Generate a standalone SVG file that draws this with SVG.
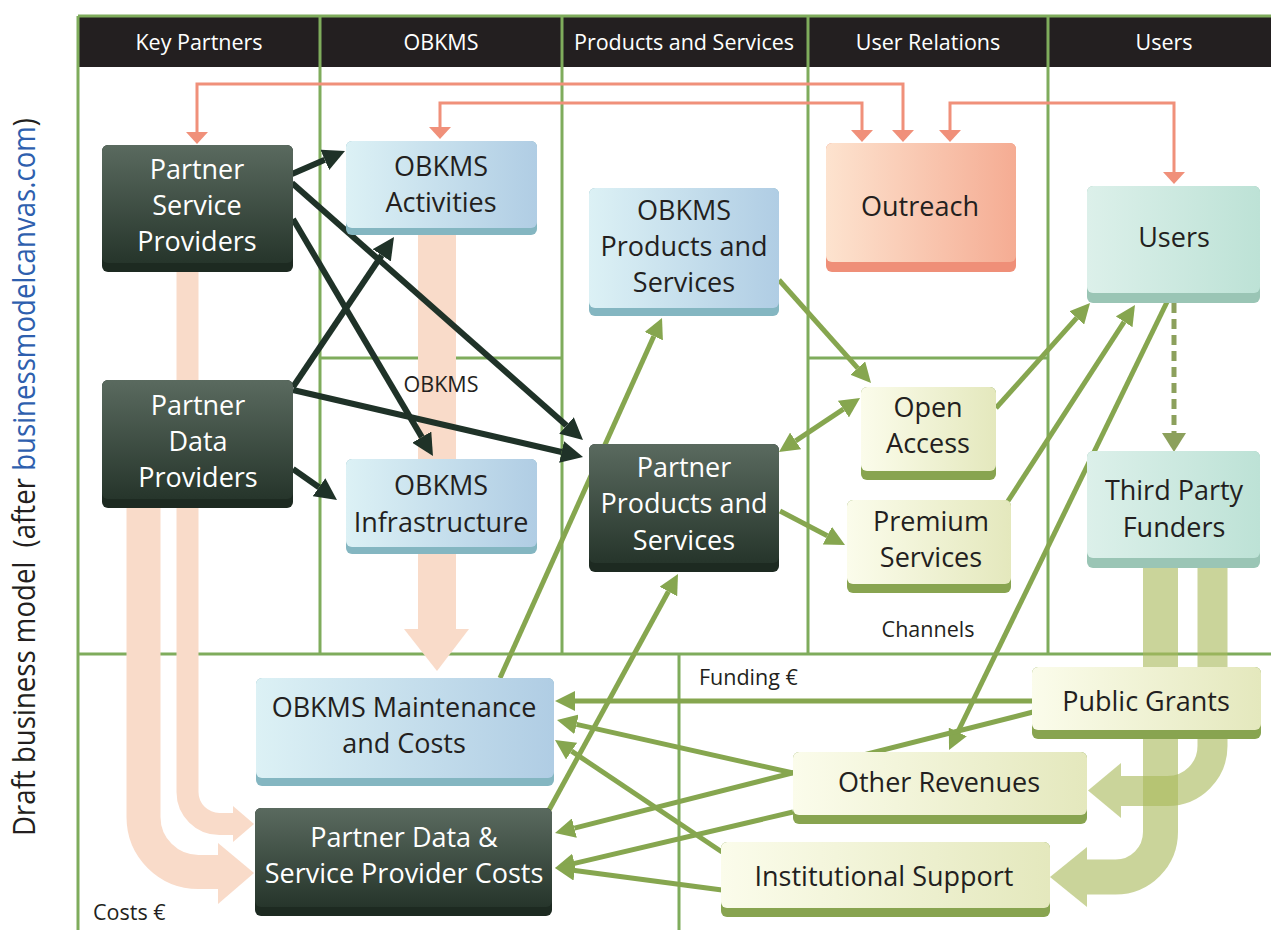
<svg xmlns="http://www.w3.org/2000/svg" width="1271" height="930" viewBox="0 0 1271 930">
<style>
.grid{stroke:#7fac5c;stroke-width:3;fill:none}
.hd{font-family:"Open Sans","Noto Sans",sans-serif;font-size:21.5px;fill:#ffffff;text-anchor:middle}
.nt{font-family:"Open Sans","Noto Sans",sans-serif;font-size:27px;fill:#231f20;text-anchor:middle}
.wt{fill:#ffffff}
.lb{font-family:"Open Sans","Noto Sans",sans-serif;font-size:21.5px;fill:#231f20}
.dk{stroke:#1f3228;stroke-width:6;fill:none;marker-end:url(#mDark)}
.gr{stroke:#86a64f;stroke-width:5;fill:none;marker-end:url(#mGreen)}
.sa{stroke:#f0907a;stroke-width:3;fill:none;marker-start:url(#mSalmon);marker-end:url(#mSalmon)}
.sflow{stroke:#f9dbc9;fill:none}
.gflow{stroke:#a9b95c;fill:none;stroke-opacity:0.62}
.s-dark{fill:#1d2a21}.s-blue{fill:#84b6c1}.s-sal{fill:#ef8f78}.s-mint{fill:#9ac5b5}.s-cream{fill:#88a450}
</style>
<defs>
<linearGradient id="gDark" x1="0" y1="0" x2="0" y2="1"><stop offset="0" stop-color="#5a6a5f"/><stop offset="1" stop-color="#26352b"/></linearGradient>
<linearGradient id="gBlue" x1="0" y1="0" x2="1" y2="0"><stop offset="0" stop-color="#dcf1f5"/><stop offset="1" stop-color="#b0cde4"/></linearGradient>
<linearGradient id="gSal" x1="0" y1="0" x2="1" y2="0"><stop offset="0" stop-color="#fde3cf"/><stop offset="1" stop-color="#f5ac93"/></linearGradient>
<linearGradient id="gMint" x1="0" y1="0" x2="1" y2="0"><stop offset="0" stop-color="#dcf0ea"/><stop offset="1" stop-color="#bde2d6"/></linearGradient>
<linearGradient id="gCream" x1="0" y1="0" x2="1" y2="0"><stop offset="0" stop-color="#fbfceb"/><stop offset="1" stop-color="#e4e8bd"/></linearGradient>
<marker id="mDark" viewBox="0 -11 22 22" refX="0" refY="0" markerWidth="22" markerHeight="22" markerUnits="userSpaceOnUse" orient="auto"><path d="M0,-11 L22,0 L0,11 z" fill="#1f3228"/></marker>
<marker id="mGreen" viewBox="0 -10 20 20" refX="0" refY="0" markerWidth="20" markerHeight="20" markerUnits="userSpaceOnUse" orient="auto-start-reverse"><path d="M0,-10 L20,0 L0,10 z" fill="#86a64f"/></marker>
<marker id="mSalmon" viewBox="0 -11 12 22" refX="0" refY="0" markerWidth="12" markerHeight="22" markerUnits="userSpaceOnUse" orient="auto-start-reverse"><path d="M0,-11 L12,0 L0,11 z" fill="#f0907a"/></marker>
</defs>
<rect x="0" y="0" width="1271" height="930" fill="#ffffff"/>

<g id="canvas">
<rect x="78" y="16" width="1193" height="51" fill="#231f20"/>
<path class="grid" d="M78,16 H1271 M78,16 V930 M320,16 V654 M562,16 V654 M808,16 V654 M1048,16 V654 M320,358 H562 M808,358 H1048 M78,654 H1271 M679,654 V930"/>
<text class="hd" x="199" y="50">Key Partners</text>
<text class="hd" x="441" y="50">OBKMS</text>
<text class="hd" x="684" y="50">Products and Services</text>
<text class="hd" x="928" y="50">User Relations</text>
<text class="hd" x="1164" y="50">Users</text>
<text transform="translate(35,836) rotate(-90)" font-family="Open Sans, Noto Sans, sans-serif" font-size="31" fill="#231f20" textLength="718" lengthAdjust="spacingAndGlyphs">Draft business model<tspan dx="16">(after </tspan><tspan fill="#2e5fae">businessmodelcanvas.com</tspan>)</text>
</g>

<g id="flows">
<rect x="418" y="235" width="38" height="395" fill="#f9dbc9"/>
<polygon points="404,629 469,629 437,671" fill="#f9dbc9"/>
<path class="sflow" stroke-width="22" d="M187.5,271 V792 A32,32 0 0 0 219.5,824 H234"/>
<polygon points="233,806 233,842 254,824" fill="#f9dbc9"/>
<path class="sflow" stroke-width="34" d="M143.5,507 V817 A55,55 0 0 0 198.5,872 H219"/>
<polygon points="218,843 218,904 254,873" fill="#f9dbc9"/>
<path class="gflow" stroke-width="35" d="M1160.5,568 V832 A45,45 0 0 1 1115.5,877 H1087"/>
<polygon points="1087,847 1087,907 1050,877" fill="#a9b95c" fill-opacity="0.62"/>
<path class="gflow" stroke-width="30" d="M1212.5,568 V746 A45,45 0 0 1 1167.5,791 H1121"/>
<polygon points="1121,763 1121,818 1088,790.5" fill="#a9b95c" fill-opacity="0.62"/>
</g>

<g id="labels">
<text class="lb" x="441" y="392" text-anchor="middle">OBKMS</text>
<text class="lb" x="928" y="637" text-anchor="middle">Channels</text>
<text class="lb" x="699" y="685">Funding €</text>
<text class="lb" x="93" y="920">Costs €</text>
</g>

<g id="connectors">
<path class="sa" d="M197,132 V84 H903 V130"/>
<path class="sa" d="M440,127 V103 H862 V130"/>
<path class="sa" d="M950,130 V103 H1174 V172"/>
<path class="dk" d="M292,174 L324.8,159.8"/>
<path class="dk" d="M292,183 L566.5,425.4"/>
<path class="dk" d="M293,219 L421.8,437.1"/>
<path class="dk" d="M293,387 L381.7,255.3"/>
<path class="dk" d="M293,390 L561.6,452"/>
<path class="dk" d="M293,469 L319,487.3"/>
<path class="gr" d="M779,280 L857.7,368.1"/>
<path class="gr" style="marker-start:url(#mGreen)" d="M795.6,440.9 L843.4,409.1"/>
<path class="gr" d="M780,511 L827.3,535.7"/>
<path class="gr" d="M996,408 L1076.7,317.9"/>
<path class="gr" d="M1008,501 L1124.1,321.8"/>
<path class="gr" d="M1167,302 L957.8,732"/>
<path d="M1174,303 V433" stroke="#8ca05c" stroke-width="5" stroke-dasharray="10 6" fill="none"/>
<polygon points="1162,433 1186,433 1174,452" fill="#8ca05c"/>
<path class="gr" d="M500,678 L653.8,336.2"/>
<path class="gr" d="M549,810 L668.4,591.5"/>
<path class="gr" d="M1033,701 L575,701"/>
<path class="gr" d="M1033,712 L574.4,828.1"/>
<path class="gr" d="M793,773 L576.5,724.4"/>
<path class="gr" d="M793,812 L574.5,863.4"/>
<path class="gr" d="M722,852 L571.6,751.1"/>
<path class="gr" d="M722,890 L574.8,870.6"/>
</g>

<g id="psp">
<rect class="s-dark" x="102" y="145" width="191" height="127" rx="6"/>
<rect fill="url(#gDark)" x="102" y="145" width="191" height="118" rx="6"/>
<text class="nt wt" x="197" y="179">Partner</text>
<text class="nt wt" x="197" y="215">Service</text>
<text class="nt wt" x="197" y="251">Providers</text>
</g>
<g id="pdp">
<rect class="s-dark" x="102" y="380" width="191" height="128" rx="6"/>
<rect fill="url(#gDark)" x="102" y="380" width="191" height="119" rx="6"/>
<text class="nt wt" x="198" y="415">Partner</text>
<text class="nt wt" x="198" y="451">Data</text>
<text class="nt wt" x="198" y="487">Providers</text>
</g>
<g id="activities">
<rect class="s-blue" x="346" y="141" width="191" height="94" rx="6"/>
<rect fill="url(#gBlue)" x="346" y="141" width="191" height="87" rx="6"/>
<text class="nt" x="441" y="176">OBKMS</text>
<text class="nt" x="441" y="212">Activities</text>
</g>
<g id="infrastructure">
<rect class="s-blue" x="346" y="459" width="191" height="95" rx="6"/>
<rect fill="url(#gBlue)" x="346" y="459" width="191" height="88" rx="6"/>
<text class="nt" x="441" y="495">OBKMS</text>
<text class="nt" x="441" y="532">Infrastructure</text>
</g>
<g id="obkms-products">
<rect class="s-blue" x="589" y="188" width="190" height="128" rx="6"/>
<rect fill="url(#gBlue)" x="589" y="188" width="190" height="120" rx="6"/>
<text class="nt" x="684" y="220">OBKMS</text>
<text class="nt" x="684" y="256">Products and</text>
<text class="nt" x="684" y="292">Services</text>
</g>
<g id="partner-products">
<rect class="s-dark" x="589" y="444" width="190" height="128" rx="6"/>
<rect fill="url(#gDark)" x="589" y="444" width="190" height="119" rx="6"/>
<text class="nt wt" x="684" y="477">Partner</text>
<text class="nt wt" x="684" y="513">Products and</text>
<text class="nt wt" x="684" y="550">Services</text>
</g>
<g id="outreach">
<rect class="s-sal" x="826" y="143" width="190" height="129" rx="6"/>
<rect fill="url(#gSal)" x="826" y="143" width="190" height="119" rx="6"/>
<text class="nt" x="920" y="216">Outreach</text>
</g>
<g id="users">
<rect class="s-mint" x="1087" y="186" width="173" height="117" rx="6"/>
<rect fill="url(#gMint)" x="1087" y="186" width="173" height="107" rx="6"/>
<text class="nt" x="1174" y="247">Users</text>
</g>
<g id="third-party">
<rect class="s-mint" x="1087" y="451" width="173" height="117" rx="6"/>
<rect fill="url(#gMint)" x="1087" y="451" width="173" height="107" rx="6"/>
<text class="nt" x="1174" y="500">Third Party</text>
<text class="nt" x="1174" y="537">Funders</text>
</g>
<g id="open-access">
<rect class="s-cream" x="861" y="387" width="135" height="93" rx="6"/>
<rect fill="url(#gCream)" x="861" y="387" width="135" height="84" rx="6"/>
<text class="nt" x="928" y="417">Open</text>
<text class="nt" x="928" y="453">Access</text>
</g>
<g id="premium">
<rect class="s-cream" x="847" y="500" width="164" height="93" rx="6"/>
<rect fill="url(#gCream)" x="847" y="500" width="164" height="84" rx="6"/>
<text class="nt" x="931" y="531">Premium</text>
<text class="nt" x="931" y="567">Services</text>
</g>
<g id="public-grants">
<rect class="s-cream" x="1032" y="667" width="229" height="72" rx="6"/>
<rect fill="url(#gCream)" x="1032" y="667" width="229" height="63" rx="6"/>
<text class="nt" x="1146" y="711">Public Grants</text>
</g>
<g id="other-revenues">
<rect class="s-cream" x="793" y="752" width="294" height="72" rx="6"/>
<rect fill="url(#gCream)" x="793" y="752" width="294" height="63" rx="6"/>
<text class="nt" x="939" y="792">Other Revenues</text>
</g>
<g id="institutional">
<rect class="s-cream" x="721" y="842" width="329" height="75" rx="6"/>
<rect fill="url(#gCream)" x="721" y="842" width="329" height="66" rx="6"/>
<text class="nt" x="884" y="886">Institutional Support</text>
</g>
<g id="maintenance">
<rect class="s-blue" x="256" y="678" width="298" height="108" rx="6"/>
<rect fill="url(#gBlue)" x="256" y="678" width="298" height="100" rx="6"/>
<text class="nt" x="404" y="717">OBKMS Maintenance</text>
<text class="nt" x="404" y="753">and Costs</text>
</g>
<g id="partner-costs">
<rect class="s-dark" x="255" y="808" width="297" height="108" rx="6"/>
<rect fill="url(#gDark)" x="255" y="808" width="297" height="99" rx="6"/>
<text class="nt wt" x="404" y="847">Partner Data &amp;</text>
<text class="nt wt" x="404" y="883">Service Provider Costs</text>
</g>
</svg>
